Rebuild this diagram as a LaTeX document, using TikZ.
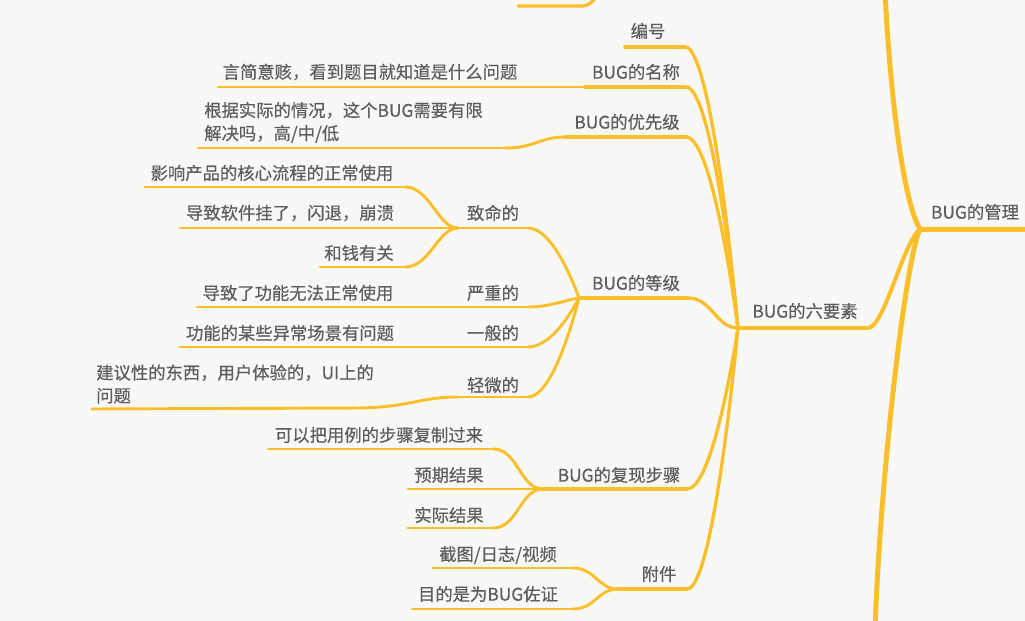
\documentclass[tikz,border=0pt]{standalone}
\usepackage{fontspec}
\setmainfont{Noto Sans CJK SC}[FakeBold=0.5]
\usetikzlibrary{calc}
\definecolor{bg}{HTML}{F8F8F7}
\definecolor{ln}{HTML}{FCBF2C}
\definecolor{tx}{HTML}{5E5E5E}
\tikzset{
  lbl/.style={inner sep=0pt, text=tx, font=\fontsize{13pt}{17.25pt}\selectfont},
  lw1/.style={draw=ln, line width=3.75pt, line cap=round},
  lw2/.style={draw=ln, line width=3pt, line cap=round},
  lw3/.style={draw=ln, line width=2.5pt, line cap=round},
  lw4/.style={draw=ln, line width=2.2pt, line cap=round},
  conn/.style={to path={let \p1=(\tikztostart), \p2=(\tikztotarget) in
     .. controls ({\x1+0.45*(\x2-\x1)},\y1) and ({\x2-0.15*(\x2-\x1)},{\y2-0.3*(\y2-\y1)}) .. (\tikztotarget)}}
}
\begin{document}
\begin{tikzpicture}[x=0.75pt,y=-0.75pt]
\fill[bg] (0,0) rectangle (1025,621);
\useasboundingbox (0,0) rectangle (1025,621);
\begin{scope}
\clip (0,0) rectangle (1025,621);
% ---------- coordinates ----------
\coordinate (rootL) at (920,229);
\coordinate (rootR) at (1030,229);
\coordinate (topEnd) at (885,-8);
\coordinate (botEnd) at (875,630);
\coordinate (fragL) at (518,6);
\coordinate (fragR) at (582,6);
\coordinate (fragEnd) at (598,-6);
\coordinate (sixL) at (738,328);
\coordinate (sixR) at (868,328);
\coordinate (bhL) at (625,47);   \coordinate (bhR) at (685,47);
\coordinate (mcL) at (585,87);   \coordinate (mcR) at (686,87);
\coordinate (mclL) at (218,87);
\coordinate (yxL) at (565,137);  \coordinate (yxR) at (686,137);
\coordinate (yxlL) at (198,148); \coordinate (yxlR) at (505,148);
\coordinate (djL) at (579,298);  \coordinate (djR) at (688,298);
\coordinate (zmL) at (458,228);  \coordinate (zmR) at (528,228);
\coordinate (zm1L) at (145,187); \coordinate (zm1R) at (405,187);
\coordinate (zm2L) at (180,228);
\coordinate (zm3L) at (320,267); \coordinate (zm3R) at (405,267);
\coordinate (yzL) at (458,307);  \coordinate (yzR) at (528,307);
\coordinate (yz1L) at (197,307);
\coordinate (ybL) at (458,347);  \coordinate (ybR) at (528,347);
\coordinate (yb1L) at (180,347);
\coordinate (qwL) at (458,397);  \coordinate (qwR) at (528,397);
\coordinate (qw1L) at (92,409);  \coordinate (qw1R) at (360,408);
\coordinate (fxL) at (543,489);  \coordinate (fxR) at (687,489);
\coordinate (fx1L) at (268,449); \coordinate (fx1R) at (493,449);
\coordinate (fx2L) at (408,489);
\coordinate (fx3L) at (408,528); \coordinate (fx3R) at (493,528);
\coordinate (fjL) at (618,589);  \coordinate (fjR) at (687,589);
\coordinate (fj1L) at (433,568); \coordinate (fj1R) at (573,568);
\coordinate (fj2L) at (412,609); \coordinate (fj2R) at (573,609);
% ---------- root lines ----------
\draw[lw1] (rootL) -- (rootR);
\draw[lw1] (rootL) .. controls (905,205) and (891,110) .. (topEnd);
\draw[lw1] (rootL) .. controls (905,262) and (880,480) .. (botEnd);
\draw[lw3] (fragL) -- (fragR) .. controls (590,6) and (594,0) .. (fragEnd);
\draw[lw2] (sixL) -- (sixR);
\draw[lw2] (sixR) .. controls (884,328) and (902,245) .. (rootL);
% ---------- six children ----------
\draw[lw3] (bhL) -- (bhR);
\draw[lw3] (bhR) to[conn] (sixL);
\draw[lw3] (mcL) -- (mcR);
\draw[lw3] (mcR) to[conn] (sixL);
\draw[lw4] (mclL) -- (mcL);
\draw[lw3] (yxL) -- (yxR);
\draw[lw3] (yxR) to[conn] (sixL);
\draw[lw4] (yxlL) -- (yxlR);
\draw[lw4] (yxlR) .. controls (535,148) and (540,137) .. (yxL);
\draw[lw3] (djL) -- (djR);
\draw[lw3] (djR) .. controls (712,298) and (716,328) .. (sixL);
\draw[lw3] (fxL) -- (fxR);
\draw[lw3] (fxR) to[conn] (sixL);
\draw[lw3] (fjL) -- (fjR);
\draw[lw3] (fjR) to[conn] (sixL);
% ---------- level children ----------
\draw[lw4] (zmL) -- (zmR);
\draw[lw4] (zmR) to[conn] (djL);
\draw[lw4] (zm1L) -- (zm1R);
\draw[lw4] (zm1R) .. controls (430,187) and (438,228) .. (zmL);
\draw[lw4] (zm2L) -- (zmL);
\draw[lw4] (zm3L) -- (zm3R);
\draw[lw4] (zm3R) .. controls (430,267) and (438,228) .. (zmL);
\draw[lw4] (yz1L) -- (yzL) -- (yzR);
\draw[lw4] (yzR) .. controls (550,307) and (565,300) .. (djL);
\draw[lw4] (yb1L) -- (ybL) -- (ybR);
\draw[lw4] (ybR) to[conn] (djL);
\draw[lw4] (qwL) -- (qwR);
\draw[lw4] (qwR) to[conn] (djL);
\draw[lw4] (qw1L) -- (qw1R) .. controls (410,407) and (420,397) .. (qwL);
% ---------- repro children ----------
\draw[lw4] (fx1L) -- (fx1R);
\draw[lw4] (fx1R) .. controls (518,449) and (520,489) .. (fxL);
\draw[lw4] (fx2L) -- (fxL);
\draw[lw4] (fx3L) -- (fx3R);
\draw[lw4] (fx3R) .. controls (518,528) and (520,489) .. (fxL);
% ---------- attachment children ----------
\draw[lw4] (fj1L) -- (fj1R);
\draw[lw4] (fj1R) .. controls (595,568) and (598,589) .. (fjL);
\draw[lw4] (fj2L) -- (fj2R);
\draw[lw4] (fj2R) .. controls (595,609) and (598,589) .. (fjL);
\end{scope}
% ---------- texts ----------
\node[lbl] (root) at (975,212) {BUG的管理};
\node[lbl] (six) at (805,311) {BUG的六要素};
\node[lbl] (bh) at (648,31) {编号};
\node[lbl] (mc) at (636,72) {BUG的名称};
\node[lbl] (mcl) at (370,72) {言简意赅，看到题目就知道是什么问题};
\node[lbl] (yx) at (627,122) {BUG的优先级};
\node[lbl, anchor=west, align=left] (yxl) at (204,122.5) {根据实际的情况，这个BUG需要有限\\解决吗，高/中/低};
\node[lbl] (dj) at (636,283) {BUG的等级};
\node[lbl] (zm) at (493,213) {致命的};
\node[lbl] (zm1) at (272,173) {影响产品的核心流程的正常使用};
\node[lbl] (zm2) at (290,213) {导致软件挂了，闪退，崩溃};
\node[lbl] (zm3) at (359,253) {和钱有关};
\node[lbl] (yz) at (493,293) {严重的};
\node[lbl] (yz1) at (298,293) {导致了功能无法正常使用};
\node[lbl] (yb) at (493,333) {一般的};
\node[lbl] (yb1) at (290,333) {功能的某些异常场景有问题};
\node[lbl] (qw) at (493,385) {轻微的};
\node[lbl, anchor=west, align=left] (qw1) at (96,384) {建议性的东西，用户体验的，UI上的\\问题};
\node[lbl] (fx) at (619,475) {BUG的复现步骤};
\node[lbl] (fx1) at (379,435) {可以把用例的步骤复制过来};
\node[lbl] (fx2) at (449,475) {预期结果};
\node[lbl] (fx3) at (449,515) {实际结果};
\node[lbl] (fj) at (659,574) {附件};
\node[lbl] (fj1) at (498,555) {截图/日志/视频};
\node[lbl] (fj2) at (488,594) {目的是为BUG佐证};
\end{tikzpicture}
\end{document}
